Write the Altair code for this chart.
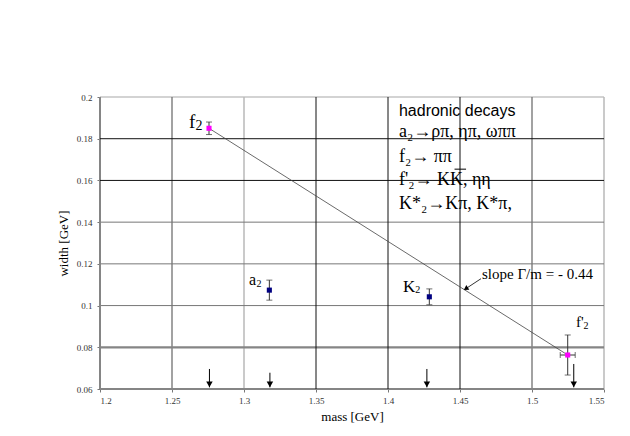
import altair as alt
import pandas as pd

# ---- data ----
NAMES = ["f2", "a2", "K2", "f'2"]
MASS = [1.2757, 1.3176, 1.4287, 1.5248]          # GeV
WIDTH = [0.1850, 0.1074, 0.1042, 0.0763]         # GeV
WIDTH_ERR = [0.0030, 0.0048, 0.0038, 0.0096]
MASS_ERR = [0.0, 0.0, 0.0, 0.0052]
GROUP = ["isoscalar", "isovector", "strange", "isoscalar"]

FIT_MASS = [1.2757, 1.5248]
FIT_WIDTH = [0.1850, 0.0763]

ARROW_MASS = [1.276, 1.318, 1.427, 1.529]
ARROW_TOP = [0.0696, 0.0678, 0.0696, 0.0720]
ARROW_TIP = [0.0608, 0.0608, 0.0608, 0.0608]
ARROW_HEAD = [0.0622, 0.0622, 0.0622, 0.0622]

X_TICKS = [1.2, 1.25, 1.3, 1.35, 1.4, 1.45, 1.5, 1.55]
Y_TICKS = [0.06, 0.08, 0.1, 0.12, 0.14, 0.16, 0.18, 0.2]

# gridline groups (by tone in the picture)
X_GRID_DARK = [1.35, 1.4, 1.45]
X_GRID_MID = [1.25, 1.5]
X_GRID_LIGHT = [1.3, 1.55]
X_AXIS_LINE = [1.2]
Y_GRID_DARK = [0.18, 0.16]
Y_GRID_MID = [0.14, 0.12, 0.1]
Y_GRID_THICK = [0.08, 0.06]
Y_GRID_LIGHT = [0.2]

# annotations (text, mass, width)
BIG_LABELS = ["f", "a", "K", "f'"]
BIG_MASS = [1.2618, 1.3034, 1.4104, 1.5305]
BIG_WIDTH = [0.1851, 0.1098, 0.1064, 0.0897]
BIG_SIZE = [19, 16, 17, 15]

SUB_LABELS = ["2", "2", "2", "2"]
SUB_MASS = [1.2663, 1.3087, 1.4190, 1.5357]
SUB_WIDTH = [0.1840, 0.1091, 0.1060, 0.0888]
SUB_SIZE = [14, 10, 10, 10]

DECAY_LINES = ["a₂→ρπ, ηπ, ωππ", "f₂→ ππ", "f'₂→ KK, ηη", "K*₂→Kπ, K*π,"]
DECAY_MASS = [1.4076, 1.4076, 1.4076, 1.4076]
DECAY_WIDTH = [0.1807, 0.1687, 0.1577, 0.1462]
HEADER = ["hadronic decays"]
HEADER_MASS = [1.4076]
HEADER_WIDTH = [0.1907]
KBAR_MASS = [1.4462]
KBAR_MASS2 = [1.4542]
KBAR_WIDTH = [0.1654]

SLOPE_TEXT = ["slope Γ/m = - 0.44"]
SLOPE_MASS = [1.4653]
SLOPE_WIDTH = [0.1127]
SLOPE_ARROW_TAIL = [1.4646, 0.1129]
SLOPE_ARROW_TIP = [1.4545, 0.1083]

SERIF = "Liberation Serif"
SANS = "Liberation Sans"

XS = alt.Scale(domain=[1.2, 1.55], nice=False, zero=False)
YS = alt.Scale(domain=[0.06, 0.2], nice=False, zero=False)
XT = "mass [GeV]"
YT = "width [GeV]"


def X(field, **kw):
    return alt.X(field, type="quantitative", scale=XS, title=XT, **kw)


def Y(field, **kw):
    return alt.Y(field, type="quantitative", scale=YS, title=YT, **kw)


pts = pd.DataFrame({"name": NAMES, "mass": MASS, "width": WIDTH,
                    "werr": WIDTH_ERR, "merr": MASS_ERR, "group": GROUP})
pts["wlo"] = pts["width"] - pts["werr"]
pts["whi"] = pts["width"] + pts["werr"]
pts["mlo"] = pts["mass"] - pts["merr"]
pts["mhi"] = pts["mass"] + pts["merr"]
pts_h = pts[pts["merr"] > 0]


def vlines(vals, color, w):
    return alt.Chart(pd.DataFrame({"v": vals})).mark_rule(color=color, strokeWidth=w).encode(x=X("v"))


def hlines(vals, color, w):
    return alt.Chart(pd.DataFrame({"v": vals})).mark_rule(color=color, strokeWidth=w).encode(y=Y("v"))


grid = [
    hlines(Y_GRID_LIGHT, "#c4c4c4", 1.5),
    vlines(X_GRID_LIGHT, "#b8b8b8", 1.5),
    vlines(X_GRID_MID, "#707070", 1.3),
    hlines(Y_GRID_MID, "#777777", 1.0),
    hlines(Y_GRID_THICK, "#858585", 2.2),
    vlines(X_AXIS_LINE, "#858585", 2.0),
    vlines(X_GRID_DARK, "#111111", 1.0),
    hlines(Y_GRID_DARK, "#111111", 1.0),
]

# axis carrier (invisible marks, axes drawn)
axis_layer = alt.Chart(pts).mark_point(opacity=0).encode(
    x=X("mass", axis=alt.Axis(values=X_TICKS, format="~g", grid=False, domain=False,
                              tickColor="#777777", tickSize=3, labelPadding=4,
                              labelFont=SERIF, labelFontSize=9, labelColor="#333333",
                              titleFont=SERIF, titleFontSize=13, titleFontWeight="normal",
                              titleColor="#000000", titlePadding=5)),
    y=Y("width", axis=alt.Axis(values=Y_TICKS, format="~g", grid=False, domain=False,
                               tickColor="#777777", tickSize=3, labelPadding=5,
                               labelFont=SERIF, labelFontSize=9, labelColor="#333333",
                               titleFont=SERIF, titleFontSize=13, titleFontWeight="normal",
                               titleColor="#000000", titlePadding=6)),
)

fit = alt.Chart(pd.DataFrame({"m": FIT_MASS, "w": FIT_WIDTH})).mark_line(
    color="#444444", strokeWidth=0.8).encode(x=X("m"), y=Y("w"))

ebar = alt.Chart(pts).mark_rule(color="#333333", strokeWidth=1).encode(
    x=X("mass"), y=Y("wlo"), y2="whi")
cap_lo = alt.Chart(pts).mark_tick(color="#333333", orient="horizontal", size=6, thickness=1).encode(
    x=X("mass"), y=Y("wlo"))
cap_hi = alt.Chart(pts).mark_tick(color="#333333", orient="horizontal", size=6, thickness=1).encode(
    x=X("mass"), y=Y("whi"))
hbar = alt.Chart(pts_h).mark_rule(color="#333333", strokeWidth=1).encode(
    x=X("mlo"), x2="mhi", y=Y("width"))
hcap_lo = alt.Chart(pts_h).mark_tick(color="#333333", orient="vertical", size=6, thickness=1).encode(
    x=X("mlo"), y=Y("width"))
hcap_hi = alt.Chart(pts_h).mark_tick(color="#333333", orient="vertical", size=6, thickness=1).encode(
    x=X("mhi"), y=Y("width"))

points = alt.Chart(pts).mark_square(size=26, opacity=1).encode(
    x=X("mass"), y=Y("width"),
    color=alt.Color("group:N", scale=alt.Scale(domain=["isoscalar", "isovector", "strange"],
                                               range=["#ff00ff", "#000080", "#000080"]), legend=None))

arr = pd.DataFrame({"m": ARROW_MASS, "top": ARROW_TOP, "tip": ARROW_TIP, "head": ARROW_HEAD})
arrow_shaft = alt.Chart(arr).mark_rule(color="#000000", strokeWidth=1).encode(
    x=X("m"), y=Y("top"), y2="tip")
arrow_head = alt.Chart(arr).mark_point(shape="triangle-down", filled=True, size=42,
                                       color="#000000", opacity=1).encode(x=X("m"), y=Y("head"))

big = alt.Chart(pd.DataFrame({"t": BIG_LABELS, "m": BIG_MASS, "w": BIG_WIDTH, "s": BIG_SIZE})).mark_text(
    font=SERIF, align="left", baseline="alphabetic", color="#000000").encode(
    x=X("m"), y=Y("w"), text="t:N", size=alt.Size("s:Q", scale=None, legend=None))
sub = alt.Chart(pd.DataFrame({"t": SUB_LABELS, "m": SUB_MASS, "w": SUB_WIDTH, "s": SUB_SIZE})).mark_text(
    font=SERIF, align="left", baseline="alphabetic", color="#000000").encode(
    x=X("m"), y=Y("w"), text="t:N", size=alt.Size("s:Q", scale=None, legend=None))

header = alt.Chart(pd.DataFrame({"t": HEADER, "m": HEADER_MASS, "w": HEADER_WIDTH})).mark_text(
    font=SANS, fontSize=16, align="left", baseline="alphabetic", color="#000000").encode(
    x=X("m"), y=Y("w"), text="t:N")
decays = alt.Chart(pd.DataFrame({"t": DECAY_LINES, "m": DECAY_MASS, "w": DECAY_WIDTH})).mark_text(
    font=SERIF, fontSize=18, align="left", baseline="alphabetic", color="#000000").encode(
    x=X("m"), y=Y("w"), text="t:N")
kbar = alt.Chart(pd.DataFrame({"m": KBAR_MASS, "m2": KBAR_MASS2, "w": KBAR_WIDTH})).mark_rule(
    color="#000000", strokeWidth=1).encode(x=X("m"), x2="m2", y=Y("w"))

slope_txt = alt.Chart(pd.DataFrame({"t": SLOPE_TEXT, "m": SLOPE_MASS, "w": SLOPE_WIDTH})).mark_text(
    font=SERIF, fontSize=15, align="left", baseline="alphabetic", color="#000000").encode(
    x=X("m"), y=Y("w"), text="t:N")
slope_line = alt.Chart(pd.DataFrame({"m": [SLOPE_ARROW_TAIL[0]], "m2": [SLOPE_ARROW_TIP[0]],
                                     "w": [SLOPE_ARROW_TAIL[1]], "w2": [SLOPE_ARROW_TIP[1]]})).mark_rule(
    color="#000000", strokeWidth=0.8).encode(x=X("m"), x2="m2", y=Y("w"), y2="w2")
slope_head = alt.Chart(pd.DataFrame({"m": [SLOPE_ARROW_TIP[0]], "w": [SLOPE_ARROW_TIP[1]]})).mark_point(
    shape="triangle", filled=True, size=30, angle=237, color="#000000", opacity=1).encode(
    x=X("m"), y=Y("w"))

chart = alt.layer(
    axis_layer, *grid, fit, ebar, cap_lo, cap_hi, hbar, hcap_lo, hcap_hi, points,
    arrow_shaft, arrow_head, big, sub, header, decays, kbar, slope_line, slope_head, slope_txt
).properties(
    width=504, height=292,
    autosize=alt.AutoSizeParams(type="none"),
    padding={"left": 92, "top": 89, "right": 10, "bottom": 38},
    background="#ffffff",
).configure_view(stroke=None)

chart.save("out.html", embed_options={"renderer": "svg", "actions": False})
